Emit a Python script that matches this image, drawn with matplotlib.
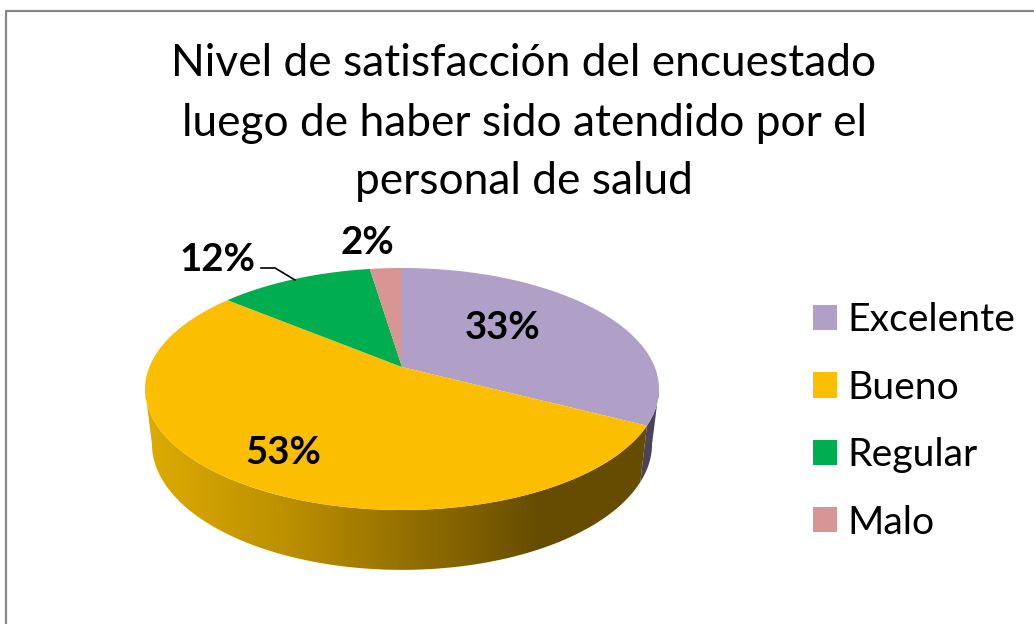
import numpy as np
import matplotlib
matplotlib.use("Agg")
import matplotlib.pyplot as plt
from matplotlib.patches import Polygon, Patch
from matplotlib.colors import LinearSegmentedColormap

title = "Nivel de satisfacción del encuestado\nluego de haber sido atendido por el\npersonal de salud"
categories = ["Excelente", "Bueno", "Regular", "Malo"]
values = [32.6, 53.4, 11.6, 2.4]
labels = ["33%", "53%", "12%", "2%"]
colors = ["#B09FC6", "#FBBE00", "#00AE50", "#D79593"]

plt.rcParams["font.family"] = ["Lato", "DejaVu Sans"]
fig = plt.figure(figsize=(10.34, 6.24), dpi=100)
ax = fig.add_axes([0, 0, 1, 1])
ax.set_xlim(0, 1034)
ax.set_ylim(624, 0)
ax.axis("off")

# Frame (only the left and top edges fall inside the picture)
ax.plot([5.5, 5.5, 1034], [624, 10.5, 10.5], color="#868686", lw=1.6, solid_capstyle="butt")

CX, CY, A, B, K = 402, 367, 252.7, 117, 0.1818
CX2, CY2, A2, B2 = 402, 421, 245.9, 121.8


def rim(theta, cx=CX, cy=CY, a=A, b=B):
    u, v = np.sin(theta), np.cos(theta)
    d = 1 + K * v
    return np.column_stack([cx + a * u / d, cy - b * v / d])


edges = np.radians(np.cumsum([0] + values) / np.sum(values) * 360)

# Sides: the purple sliver, then the shaded gold wall
th = np.linspace(np.radians(100.5), edges[1], 40)
ax.add_patch(Polygon(np.vstack([rim(th), rim(th, CX2, CY2, A2, B2)[::-1]]),
                     fc="#4A4359", ec="none", zorder=2))

th = np.linspace(edges[1], np.radians(259.5), 200)
wall = Polygon(np.vstack([rim(th), rim(th, CX2, CY2, A2, B2)[::-1]]),
               fc="none", ec="none", zorder=3)
ax.add_patch(wall)
cmap = LinearSegmentedColormap.from_list(
    "wall", [(0, "#DDAC00"), (0.30, "#B98D00"), (0.62, "#846300"), (0.78, "#664C00"), (1, "#664C00")])
im = ax.imshow(np.linspace(0, 1, 256)[None, :], cmap=cmap, extent=[145, 650, 575, 380],
               aspect="auto", zorder=3, vmin=0, vmax=1)
im.set_clip_path(wall)
ax.set_xlim(0, 1034)
ax.set_ylim(624, 0)

# Top face
for i, c in enumerate(colors):
    th = np.linspace(edges[i], edges[i + 1], 120)
    ax.add_patch(Polygon(np.vstack([[CX, CY], rim(th)]), fc=c, ec="none", zorder=4))

# Data labels
label_pos = [(503, 328), (283, 453), (217, 260), (367, 243)]
for s, (x, y) in zip(labels, label_pos):
    ax.text(x, y, s, ha="center", va="center", fontsize=27.6, fontweight="bold", color="black", zorder=6)
ax.plot([261, 275, 295], [268, 268, 280], color="black", lw=1.2, zorder=5)

# Title
for line, y in zip(title.split("\n"), [64, 123, 181]):
    ax.text(524, y, line, ha="center", va="center", fontsize=31.9, color="black")

# Legend
handles = [Patch(fc=c, ec="none", label=n) for c, n in zip(colors, categories)]
ax.legend(handles=handles, loc="upper left", bbox_to_anchor=(813 / 1034, 1 - 302.5 / 624),
          frameon=False, fontsize=28.2, handlelength=0.61, handleheight=0.61,
          handletextpad=0.27, labelspacing=0.80, borderpad=0, borderaxespad=0)

fig.savefig("out.png", dpi=100, facecolor="white")
